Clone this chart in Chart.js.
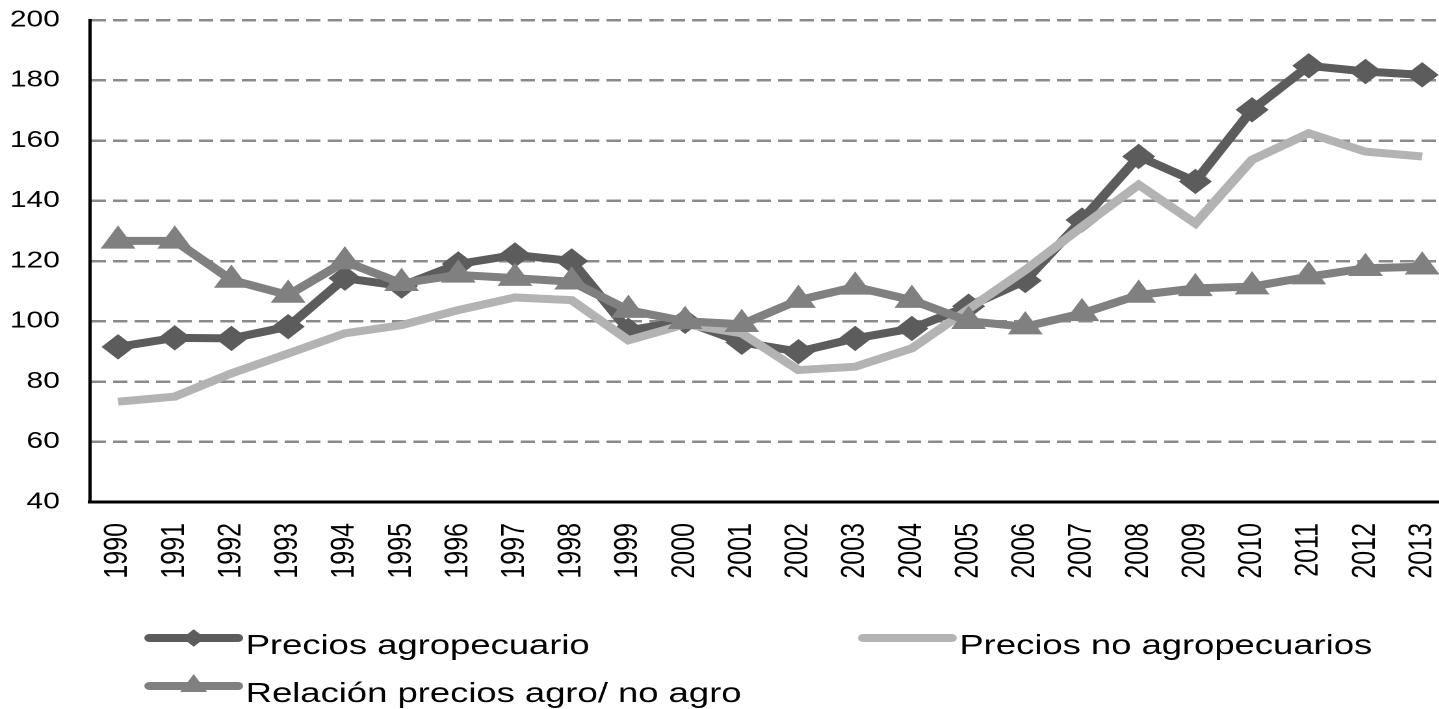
<!DOCTYPE html>
<html>
<head>
<meta charset="utf-8">
<script src="https://cdn.jsdelivr.net/npm/chart.js"></script>
<style>
    html, body { margin: 0; padding: 0; background: #fff; overflow: hidden; }
    /* the original picture is stretched horizontally, so draw narrow and scale;
       a little extra width so the plot runs to the right edge of the window */
    #wrap { width: 1123px; height: 709px; transform: scaleX(1.3); transform-origin: 0 0; }
</style>
</head>
<body>
<div id="wrap"><canvas id="chart"></canvas></div>
<script>
// data
const years = [1990, 1991, 1992, 1993, 1994, 1995, 1996, 1997, 1998, 1999, 2000, 2001,
               2002, 2003, 2004, 2005, 2006, 2007, 2008, 2009, 2010, 2011, 2012, 2013];
const yTicks = [40, 60, 80, 100, 120, 140, 160, 180, 200];
const seriesNames = ["Precios agropecuario", "Precios no agropecuarios", "Relación precios agro/ no agro"];

const agro = [91.5, 94.5, 94.3, 98.2, 114.3, 111.7, 119, 122, 120, 97, 100, 93,
              89.9, 94.3, 97.6, 105, 113.5, 133.6, 154.7, 146.4, 170.2, 184.8, 182.9, 181.8];
const noAgro = [73.3, 75, 82.7, 89.3, 96, 98.7, 103.7, 107.9, 107, 93.7, 99, 96,
                83.8, 84.9, 91, 104, 117, 131.4, 145.3, 132.5, 153.6, 162.4, 156.3, 154.7];
const relacion = [126.7, 126.7, 113.7, 108.7, 119.8, 112.6, 115.4, 114.3, 113.1, 103.7, 100, 99,
                  107, 111.4, 107, 100, 98.2, 102.6, 108.7, 110.9, 111.5, 114.8, 117.6, 118.1];

const FONT = '"Liberation Sans", Arial, sans-serif';

// pair years with values for the linear x axis
function toPoints(values) {
    return values.map((v, i) => ({ x: years[i], y: v }));
}

// legend drawn below the plot: line sample with marker, then the label
const legendSpots = [
    { index: 0, x: 115, y: 638, r: 8 },
    { index: 1, x: 664, y: 638, r: 0 },
    { index: 2, x: 115, y: 686, r: 11 }
];

const bottomLegend = {
    id: 'bottomLegend',
    afterDraw(chart) {
        const ctx = chart.ctx;
        ctx.save();
        legendSpots.forEach(spot => {
            const ds = chart.data.datasets[spot.index];
            ctx.strokeStyle = ds.borderColor;
            ctx.lineWidth = 8;
            ctx.lineCap = 'round';
            ctx.beginPath();
            ctx.moveTo(spot.x, spot.y);
            ctx.lineTo(spot.x + 68, spot.y);
            ctx.stroke();
            if (spot.r > 0) {
                ctx.fillStyle = ds.pointBackgroundColor;
                ctx.strokeStyle = ds.pointBorderColor;
                ctx.lineWidth = 1;
                Chart.helpers.drawPoint(ctx, { pointStyle: ds.pointStyle, radius: spot.r, borderWidth: 1, rotation: 0 }, spot.x + 34, spot.y);
            }
            ctx.fillStyle = '#000';
            ctx.font = '28px ' + FONT;
            ctx.textBaseline = 'alphabetic';
            ctx.textAlign = 'left';
            ctx.fillText(ds.label, spot.x + 74, spot.y + 16);
        });
        ctx.restore();
    }
};

const ctx = document.getElementById('chart').getContext('2d');
const chart = new Chart(ctx, {
    type: 'line',
    data: {
        datasets: [
            {
                label: seriesNames[0],
                data: toPoints(agro),
                borderColor: '#5c5c5c',
                borderWidth: 8,
                pointStyle: 'rectRot',
                pointRadius: 12,
                pointBackgroundColor: '#5c5c5c',
                pointBorderColor: '#5c5c5c',
                pointBorderWidth: 1,
                order: 2,
                clip: false
            },
            {
                label: seriesNames[1],
                data: toPoints(noAgro),
                borderColor: '#b3b3b3',
                borderWidth: 8,
                pointRadius: 0,
                order: 1,
                clip: false
            },
            {
                label: seriesNames[2],
                data: toPoints(relacion),
                borderColor: '#808080',
                borderWidth: 8,
                pointStyle: 'triangle',
                pointRadius: 14.5,
                pointBackgroundColor: '#808080',
                pointBorderColor: '#808080',
                pointBorderWidth: 1,
                order: 0,
                clip: false
            }
        ]
    },
    options: {
        responsive: true,
        maintainAspectRatio: false,
        animation: false,
        devicePixelRatio: 2,
        layout: { padding: { top: 20, right: 1, left: 0, bottom: 0 } },
        plugins: {
            legend: { display: false },
            tooltip: { enabled: false }
        },
        scales: {
            x: {
                type: 'linear',
                min: 1989.5,
                max: 2013.31,
                afterBuildTicks: scale => { scale.ticks = years.map(y => ({ value: y })); },
                afterFit: scale => {
                    scale.height = 207;
                    scale.paddingLeft = 0;
                    scale.paddingRight = 0;
                },
                grid: { display: false, drawTicks: false },
                border: { display: true, color: '#000', width: 3 },
                ticks: {
                    autoSkip: false,
                    maxRotation: 90,
                    minRotation: 90,
                    padding: 21,
                    color: '#000',
                    font: { family: FONT, size: 25 },
                    callback: v => String(v)
                }
            },
            y: {
                min: 40,
                max: 200,
                afterBuildTicks: scale => { scale.ticks = yTicks.map(v => ({ value: v })); },
                afterFit: scale => {
                    scale.width = 69;
                    scale.paddingTop = 0;
                    scale.paddingBottom = 0;
                },
                grid: {
                    drawTicks: false,
                    color: c => (c.tick && c.tick.value === 40) ? 'rgba(0,0,0,0)' : '#8a8a8a',
                    lineWidth: 2.5
                },
                border: { display: true, color: '#000', width: 2.5, dash: [11, 5.5] },
                ticks: {
                    padding: 23,
                    color: '#000',
                    font: { family: FONT, size: 23 },
                    callback: v => String(v)
                }
            }
        }
    },
    plugins: [bottomLegend]
});
</script>
</body>
</html>
